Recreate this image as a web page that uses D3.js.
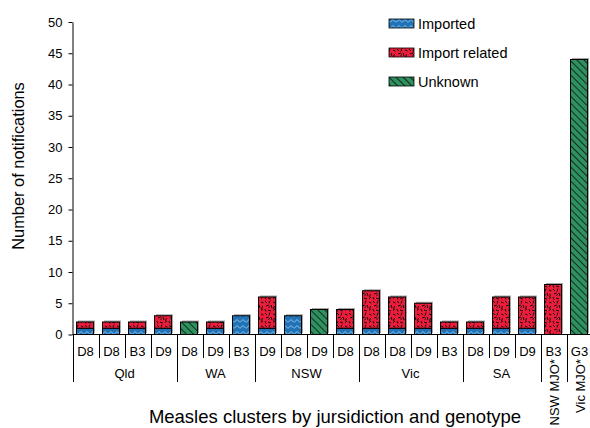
<!DOCTYPE html>
<html><head><meta charset="utf-8">
<script src="https://cdn.jsdelivr.net/npm/d3@7"></script>
<style>body{margin:0;background:#fff} svg{display:block;font-family:"Liberation Sans",Arial,sans-serif}</style>
</head><body><svg id="c" width="590" height="428"></svg>
<script>
const genotypes = ["D8","D8","B3","D9","D8","D9","B3","D9","D8","D9","D8","D8","D8","D9","B3","D8","D9","D9","B3","G3"];
const jurisdictions = ["Qld","Qld","Qld","Qld","WA","WA","WA","NSW","NSW","NSW","NSW","Vic","Vic","Vic","Vic","SA","SA","SA","NSW MJO*","Vic MJO*"];
const rotatedGroups = ["NSW MJO*","Vic MJO*"];
const imported      = [1,1,1,1,0,1,3,1,3,0,1,1,1,1,1,1,1,1,0,0];
const importRelated = [1,1,1,2,0,1,0,5,0,0,3,6,5,4,1,1,5,5,8,0];
const unknown       = [0,0,0,0,2,0,0,0,0,4,0,0,0,0,0,0,0,0,0,44];
const seriesNames = ["Imported","Import related","Unknown"];
const yTicks = [0,5,10,15,20,25,30,35,40,45,50];
const yTitle = "Number of notifications";
const xTitle = "Measles clusters by jursidiction and genotype";

const svg = d3.select("#c");
const defs = svg.append("defs");
const pI = defs.append("pattern").attr("id","pImp").attr("patternUnits","userSpaceOnUse").attr("width",6).attr("height",6);
pI.append("rect").attr("width",6).attr("height",6).attr("fill","#2171b5");
pI.append("path").attr("d","M0,4.5 L3,1.5 L6,4.5").attr("fill","none").attr("stroke","#8cc8f2").attr("stroke-width",1);
const pR = defs.append("pattern").attr("id","pRel").attr("patternUnits","userSpaceOnUse").attr("width",12).attr("height",12);
pR.append("rect").attr("width",12).attr("height",12).attr("fill","#ec1c3a");
pR.append("path").attr("d","M1,1 l2,2 M6,0.5 l-1,3 M9,2 l2.5,1 M2,6 l3,-1 M7,5 l1,3 M10.5,6 l-1,3 M1,9 l1,2.5 M4,10 l3,1 M9,10.5 l2,-1.5 M4.5,7.5 l1.5,-1")
  .attr("stroke","#111").attr("stroke-width",1).attr("fill","none");
const pU = defs.append("pattern").attr("id","pUnk").attr("patternUnits","userSpaceOnUse").attr("width",5).attr("height",5).attr("patternTransform","rotate(-45)");
pU.append("rect").attr("width",5).attr("height",5).attr("fill","#2e9160");
pU.append("line").attr("x1",0).attr("y1",0).attr("x2",0).attr("y2",5).attr("stroke","#111").attr("stroke-width",1.6);
const fills = ["url(#pImp)","url(#pRel)","url(#pUnk)"];

const n = genotypes.length;
const x0 = 72.5, bandW = 26;
const x = d3.scaleBand().domain(d3.range(n)).range([x0, x0 + bandW*n]).padding(0);
const y = d3.scaleLinear().domain([0,50]).range([334.5,22]);
const barW = 17;

const rows = d3.range(n).map(i => ({i, "Imported":imported[i], "Import related":importRelated[i], "Unknown":unknown[i]}));
const stack = d3.stack().keys(seriesNames)(rows);
const bx = i => x(i) + (x.bandwidth()-barW)/2 - 0.5;

svg.append("g").selectAll("rect").data(rows).join("rect")
  .attr("x", d => bx(d.i)+1.5)
  .attr("y", d => y(d.Imported + d["Import related"] + d.Unknown)-1.5)
  .attr("width", barW)
  .attr("height", d => y(0) - y(d.Imported + d["Import related"] + d.Unknown))
  .attr("fill","#a6a6a6");

stack.forEach((s, k) => {
  svg.append("g").selectAll("rect").data(s.filter(d => d[1]-d[0] > 0)).join("rect")
    .attr("x", d => bx(d.data.i))
    .attr("y", d => y(d[1]))
    .attr("width", barW)
    .attr("height", d => y(d[0]) - y(d[1]))
    .attr("fill", fills[k]).attr("stroke","#000").attr("stroke-width",1);
});

const ya = svg.append("g").attr("transform",`translate(${x0},0)`)
  .call(d3.axisLeft(y).tickValues(yTicks).tickSize(4).tickSizeOuter(0).tickPadding(6));
ya.selectAll("text").attr("font-size",13).attr("fill","#000").attr("font-family","Liberation Sans, Arial, sans-serif");
ya.selectAll("line,path").attr("stroke","#000");

svg.append("text").attr("transform","translate(24,166) rotate(-90)").attr("text-anchor","middle")
  .attr("font-size",16.4).text(yTitle);

const xa = svg.append("g").attr("stroke","#000").attr("stroke-width",1);
xa.append("line").attr("x1",x0).attr("x2",590).attr("y1",y(0)).attr("y2",y(0));
const boundaries = [];
for (let i=0;i<=n;i++){
  const isGroup = i===0 || i===n || jurisdictions[i]!==jurisdictions[i-1];
  boundaries.push({i, isGroup});
}
xa.selectAll("line.sep").data(boundaries).join("line").attr("class","sep")
  .attr("x1", d => Math.round(x0 + d.i*bandW)+0.5).attr("x2", d => Math.round(x0 + d.i*bandW)+0.5)
  .attr("y1", y(0)).attr("y2", d => d.isGroup ? 382 : 358);

svg.append("g").selectAll("text").data(genotypes).join("text")
  .attr("x",(d,i)=> x(i)+bandW/2).attr("y",356).attr("text-anchor","middle").attr("font-size",13).text(d=>d);

const groups = [];
jurisdictions.forEach((j,i)=>{
  if (!groups.length || groups[groups.length-1].name!==j) groups.push({name:j,start:i,end:i});
  else groups[groups.length-1].end=i;
});
groups.forEach(g=>{
  const cx = x0 + (g.start + g.end + 1)/2*bandW;
  if (rotatedGroups.includes(g.name)) {
    svg.append("text").attr("transform",`translate(${cx+5},359) rotate(-90)`).attr("text-anchor","end")
      .attr("font-size",13).text(g.name);
  } else {
    svg.append("text").attr("x",cx).attr("y",378).attr("text-anchor","middle").attr("font-size",13).text(g.name);
  }
});

svg.append("text").attr("x",335).attr("y",423).attr("text-anchor","middle").attr("font-size",18.5).text(xTitle);

const lg = svg.append("g");
seriesNames.forEach((s,k)=>{
  const ly = 19 + k*29;
  lg.append("rect").attr("x",389).attr("y",ly).attr("width",25).attr("height",9).attr("fill",fills[k]).attr("stroke","#000").attr("stroke-width",0.8);
  lg.append("text").attr("x",418).attr("y",ly+9.5).attr("font-size",14.5).text(s);
});
</script></body></html>
